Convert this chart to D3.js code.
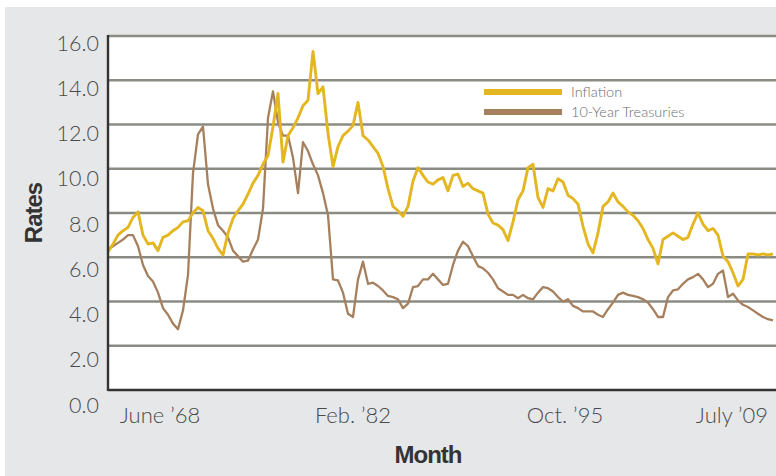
<!DOCTYPE html>
<html>
<head>
<meta charset="utf-8">
<script src="https://cdn.jsdelivr.net/npm/d3@7"></script>
<style>
  body { margin: 0; background: #fff; }
  svg { display: block; }
</style>
</head>
<body>
<script>
// values, one sample every few weeks, left to right
var inflation = [
  6.25, 6.6, 7.0, 7.2, 7.35, 7.8, 8.05, 7.0, 6.6, 6.65,
  6.3, 6.9, 7.0, 7.2, 7.35, 7.6, 7.65, 8.0, 8.25, 8.1,
  7.2, 6.85, 6.4, 6.1, 7.1, 7.75, 8.1, 8.4, 8.85, 9.35,
  9.7, 10.2, 10.6, 11.9, 13.4, 10.3, 11.5, 11.85, 12.3, 12.85,
  13.1, 15.3, 13.4, 13.7, 11.6, 10.1, 11.0, 11.5, 11.7, 11.95,
  13.0, 11.5, 11.3, 11.0, 10.7, 10.1, 9.1, 8.3, 8.1, 7.85,
  8.3, 9.45, 10.05, 9.7, 9.4, 9.3, 9.5, 9.6, 9.0, 9.7,
  9.75, 9.2, 9.35, 9.1, 9.0, 8.9, 7.95, 7.55, 7.45, 7.25,
  6.75, 7.6, 8.6, 9.0, 10.05, 10.2, 8.7, 8.25, 9.1, 9.0,
  9.55, 9.4, 8.8, 8.65, 8.4, 7.4, 6.6, 6.2, 7.1, 8.3,
  8.5, 8.9, 8.5, 8.3, 8.05, 7.9, 7.65, 7.3, 6.8, 6.4,
  5.7, 6.8, 6.95, 7.1, 6.95, 6.8, 6.9, 7.5, 8.0, 7.5,
  7.2, 7.3, 7.0, 6.05, 5.8, 5.3, 4.7, 5.0, 6.15, 6.15,
  6.1, 6.15, 6.1, 6.15
];

var treasuries = [
  6.35, 6.5, 6.65, 6.8, 7.0, 7.0, 6.5, 5.65, 5.15, 4.9,
  4.4, 3.7, 3.4, 3.0, 2.75, 3.6, 5.2, 9.8, 11.55, 11.9,
  9.3, 8.2, 7.45, 7.2, 6.9, 6.3, 6.05, 5.8, 5.85, 6.35,
  6.8, 8.2, 12.3, 13.5, 12.1, 11.5, 11.5, 10.5, 8.9, 11.2,
  10.8, 10.2, 9.7, 8.9, 7.9, 5.0, 4.95, 4.4, 3.45, 3.3,
  5.0, 5.8, 4.8, 4.85, 4.7, 4.5, 4.25, 4.2, 4.1, 3.7,
  3.9, 4.65, 4.7, 5.0, 5.0, 5.25, 5.0, 4.75, 4.8, 5.65,
  6.3, 6.7, 6.5, 6.05, 5.6, 5.5, 5.3, 5.0, 4.6, 4.45,
  4.3, 4.3, 4.15, 4.3, 4.15, 4.1, 4.4, 4.65, 4.6, 4.45,
  4.2, 4.0, 4.1, 3.8, 3.7, 3.55, 3.55, 3.55, 3.4, 3.3,
  3.65, 3.95, 4.3, 4.4, 4.3, 4.25, 4.2, 4.1, 3.95, 3.65,
  3.3, 3.3, 4.2, 4.5, 4.55, 4.8, 5.0, 5.1, 5.25, 5.0,
  4.65, 4.8, 5.25, 5.4, 4.2, 4.35, 4.05, 3.85, 3.75, 3.6,
  3.45, 3.3, 3.2, 3.15
];

var xTickLabels = ["June \u201968", "Feb. \u201982", "Oct. \u201995", "July \u201909"];
var xTickIndex = [10.4, 49, 91.4, 124.8];
var yTicks = [0, 2, 4, 6, 8, 10, 12, 14, 16];

var seriesNames = ["Inflation", "10-Year Treasuries"];
var seriesColors = ["#e4b722", "#a6805e"];

var width = 776, height = 476;
var plot = {left: 108, top: 36, right: 776, bottom: 390};

var svg = d3.select("body").append("svg")
    .attr("width", width)
    .attr("height", height);

// grey panel behind everything
svg.append("rect")
    .attr("x", 5)
    .attr("y", 7)
    .attr("width", width - 5)
    .attr("height", height - 7)
    .attr("fill", "#e6e7e9");

svg.append("rect")
    .attr("x", plot.left)
    .attr("y", plot.top)
    .attr("width", plot.right - plot.left)
    .attr("height", plot.bottom - plot.top)
    .attr("fill", "#fff");

var x = d3.scaleLinear()
    .domain([0, inflation.length - 1])
    .range([plot.left, 773]);

var y = d3.scaleLinear()
    .domain([0, 16])
    .range([plot.bottom, plot.top]);

// the tick labels in the original drift a little below their grid lines
var yLabel = d3.scaleLinear()
    .domain([0, 16])
    .range([405, 43]);

// grid lines
svg.append("g")
    .selectAll("line")
    .data(yTicks.filter(function (d) { return d > 0; }))
    .enter().append("line")
    .attr("x1", plot.left)
    .attr("x2", plot.right)
    .attr("y1", function (d) { return y(d); })
    .attr("y2", function (d) { return y(d); })
    .attr("stroke", "#8a8c83")
    .attr("stroke-width", 2.6);

svg.append("g")
    .selectAll("text")
    .data(yTicks)
    .enter().append("text")
    .attr("x", 99)
    .attr("y", function (d) { return yLabel(d); })
    .attr("dy", "0.36em")
    .attr("text-anchor", "end")
    .attr("font-family", "Lato, 'Open Sans', sans-serif")
    .attr("font-weight", 300)
    .attr("font-size", 21.5)
    .attr("fill", "#4a4a4a")
    .text(function (d) { return d3.format(".1f")(d); });

// x tick labels
svg.append("g")
    .selectAll("text")
    .data(xTickLabels)
    .enter().append("text")
    .attr("x", function (d, i) { return x(xTickIndex[i]); })
    .attr("y", 423)
    .attr("text-anchor", "middle")
    .attr("font-family", "Lato, 'Open Sans', sans-serif")
    .attr("font-weight", 300)
    .attr("font-size", 22)
    .attr("fill", "#4a4a4a")
    .text(function (d) { return d; });

// lines
var line = d3.line()
    .x(function (d, i) { return x(i); })
    .y(function (d) { return y(d); });

svg.append("path")
    .datum(treasuries)
    .attr("d", line)
    .attr("fill", "none")
    .attr("stroke", seriesColors[1])
    .attr("stroke-width", 2.3)
    .attr("stroke-linejoin", "round");

svg.append("path")
    .datum(inflation)
    .attr("d", line)
    .attr("fill", "none")
    .attr("stroke", seriesColors[0])
    .attr("stroke-width", 2.9)
    .attr("stroke-linejoin", "round");

// axis lines
svg.append("line")
    .attr("x1", plot.left)
    .attr("x2", plot.right)
    .attr("y1", plot.bottom)
    .attr("y2", plot.bottom)
    .attr("stroke", "#333")
    .attr("stroke-width", 2.4);

svg.append("line")
    .attr("x1", plot.left)
    .attr("x2", plot.left)
    .attr("y1", plot.top - 1)
    .attr("y2", plot.bottom + 1)
    .attr("stroke", "#333")
    .attr("stroke-width", 2.4);

// legend
var legend = svg.append("g")
    .attr("transform", "translate(484,92)");

var item = legend.selectAll("g")
    .data(seriesNames)
    .enter().append("g")
    .attr("transform", function (d, i) { return "translate(0," + (i * 20) + ")"; });

item.append("rect")
    .attr("x", 0)
    .attr("y", -3)
    .attr("width", 78)
    .attr("height", 6)
    .attr("fill", function (d, i) { return seriesColors[i]; });

item.append("text")
    .attr("x", 87)
    .attr("y", 0)
    .attr("dy", "0.36em")
    .attr("font-family", "Lato, 'Open Sans', sans-serif")
    .attr("font-weight", 300)
    .attr("font-size", 14.5)
    .attr("fill", "#6d6d6d")
    .text(function (d) { return d; });

// axis titles
svg.append("text")
    .attr("x", 428)
    .attr("y", 463)
    .attr("text-anchor", "middle")
    .attr("font-family", "'Liberation Sans', Arial, sans-serif")
    .attr("font-weight", "bold")
    .attr("font-size", 24)
    .attr("letter-spacing", -1)
    .attr("fill", "#333")
    .text("Month");

svg.append("text")
    .attr("transform", "translate(42,213) rotate(-90)")
    .attr("text-anchor", "middle")
    .attr("font-family", "'Liberation Sans', Arial, sans-serif")
    .attr("font-weight", "bold")
    .attr("font-size", 24)
    .attr("letter-spacing", -1)
    .attr("fill", "#333")
    .text("Rates");
</script>
</body>
</html>
